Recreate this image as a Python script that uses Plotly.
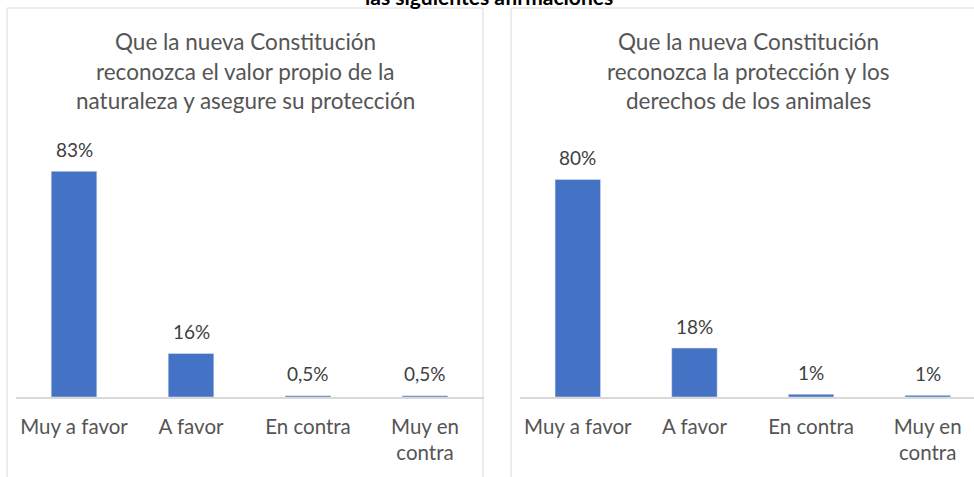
import plotly.graph_objects as go

# ---- data ----
categories = ["Muy a favor", "A favor", "En contra", "Muy en<br>contra"]
left_values = [83, 16, 0.5, 0.5]
left_labels = ["83%", "16%", "0,5%", "0,5%"]
right_values = [80, 18, 1, 0.6]
right_labels = ["80%", "18%", "1%", "1%"]
left_title = ["Que la nueva Constitución",
              "reconozca el valor propio de la",
              "naturaleza y asegure su protección"]
right_title = ["Que la nueva Constitución",
               "reconozca la protección y los",
               "derechos de los animales"]
main_title = "las siguientes afirmaciones"

W, H = 974, 477
FONT = "Lato"
BLUE = "#4472C4"
GRID = "#d9d9d9"
TXT = "#555555"
LBL = "#404040"

def px(x):
    return x / W

def py(y):
    return 1 - y / H

base_y = 397
top_y = 130
ppu = 2.72
yrange = [0, (base_y - top_y) / ppu]

fig = go.Figure()
fig.add_trace(go.Bar(x=categories, y=left_values, marker_color=BLUE, width=0.39,
                     xaxis="x", yaxis="y", hoverinfo="skip"))
fig.add_trace(go.Bar(x=categories, y=right_values, marker_color=BLUE, width=0.39,
                     xaxis="x2", yaxis="y2", hoverinfo="skip"))

annotations = []
for xa, ya, vals, labs in [("x", "y", left_values, left_labels),
                           ("x2", "y2", right_values, right_labels)]:
    for c, v, l in zip(categories, vals, labs):
        annotations.append(dict(x=c, y=v, xref=xa, yref=ya, text=l, showarrow=False,
                                yanchor="middle", yshift=22,
                                font=dict(family=FONT, size=19, color=LBL)))

for cx, lines in [(245.5, left_title), (748.5, right_title)]:
    for i, (ln, ly) in enumerate(zip(lines, [42, 71, 100])):
        annotations.append(dict(x=px(cx), y=py(ly), xref="paper", yref="paper",
                                text=ln, showarrow=False, xanchor="center",
                                yanchor="middle",
                                font=dict(family=FONT, size=22.5, color=TXT)))

annotations.append(dict(x=px(489), y=py(11), xref="paper", yref="paper",
                        text="<b>" + main_title + "</b>", showarrow=False,
                        xanchor="center", yanchor="bottom",
                        font=dict(family=FONT, size=21, color="#000000")))

shapes = [
    dict(type="rect", xref="paper", yref="paper", x0=px(7), x1=px(483),
         y0=-0.2, y1=py(8), line=dict(color=GRID, width=1), layer="below"),
    dict(type="rect", xref="paper", yref="paper", x0=px(511), x1=1.2,
         y0=-0.2, y1=py(8), line=dict(color=GRID, width=1), layer="below"),
]

axis_common = dict(type="category", showgrid=False, zeroline=False, showline=True,
                   linecolor=GRID, linewidth=2, ticks="", ticklabelstandoff=10,
                   tickfont=dict(family=FONT, size=20.5, color=TXT), fixedrange=True)
yaxis_common = dict(range=yrange, visible=False, showgrid=False, zeroline=False,
                    domain=[1 - base_y / H, 1 - top_y / H], fixedrange=True)

fig.update_layout(
    width=W, height=H,
    margin=dict(l=0, r=0, t=0, b=0),
    paper_bgcolor="white", plot_bgcolor="rgba(0,0,0,0)",
    showlegend=False, bargap=0.6,
    xaxis=dict(domain=[px(15.5), px(483.5)], range=[-0.5, 3.5], anchor="y", **axis_common),
    yaxis=dict(anchor="x", **yaxis_common),
    xaxis2=dict(domain=[px(519.5), 1.0], range=[-0.5, 3.5 - 12 / 116.7], anchor="y2", **axis_common),
    yaxis2=dict(anchor="x2", **yaxis_common),
    annotations=annotations,
    shapes=shapes,
)

fig.write_html("out.html", config={"displayModeBar": False},
               post_script="document.body.style.margin='0';document.body.style.overflow='hidden';")
